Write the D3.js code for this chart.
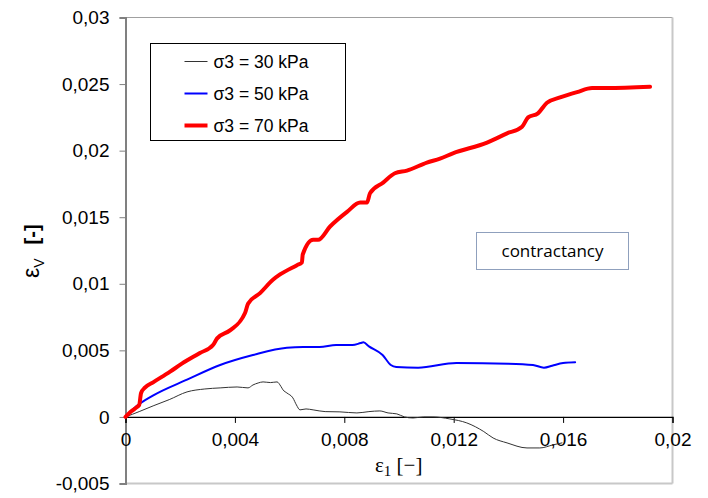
<!DOCTYPE html>
<html>
<head>
<meta charset="utf-8">
<script src="https://cdn.jsdelivr.net/npm/d3@7"></script>
<style>
  html, body { margin: 0; padding: 0; background: #fff; }
  svg { display: block; }
</style>
</head>
<body>
<svg id="chart" width="708" height="498"></svg>
<script>
// Axial strain ε1 vs. volumetric strain εV for three confining pressures
const seriesNames = ["σ3 = 30 kPa", "σ3 = 50 kPa", "σ3 = 70 kPa"];
const seriesColors = ["#333333", "#0000ff", "#ff0000"];
const seriesWidths = [1, 2, 4];

const s30 = [
  [0, 0], [0.0005, 0.0004], [0.00101, 0.00083], [0.0016, 0.0013], [0.00225, 0.00188],
  [0.0029, 0.0021], [0.00346, 0.00218], [0.00408, 0.00225], [0.00448, 0.00218],
  [0.00466, 0.0024], [0.00485, 0.00255], [0.00503, 0.00263], [0.0053, 0.00258],
  [0.00554, 0.00263], [0.00568, 0.0023], [0.00576, 0.00203], [0.0059, 0.0018],
  [0.00612, 0.00143], [0.00625, 0.0009], [0.00638, 0.00053], [0.0066, 0.0006],
  [0.00686, 0.00053], [0.0073, 0.0004], [0.00784, 0.00038], [0.00846, 0.0003],
  [0.0089, 0.0004], [0.0093, 0.00045], [0.0096, 0.0003], [0.00992, 0.00023],
  [0.0102, 0.0], [0.01051, -0.00008], [0.0109, 0.0], [0.01124, 0.0],
  [0.01186, -0.00015], [0.01248, -0.00045], [0.0131, -0.0011], [0.01344, -0.00158],
  [0.01395, -0.00195], [0.01468, -0.00233], [0.01515, -0.00233], [0.01563, -0.0021],
  [0.01596, -0.00195]
];

const s50 = [
  [0, 0], [0.0004, 0.0008], [0.001, 0.0016], [0.00225, 0.0028], [0.00346, 0.0039],
  [0.00466, 0.00465], [0.0059, 0.0052], [0.0065, 0.00525], [0.0071, 0.00525],
  [0.0077, 0.0054], [0.0083, 0.0054], [0.0086, 0.00555], [0.0087, 0.0056],
  [0.0089, 0.0053], [0.0094, 0.00465], [0.0097, 0.0039], [0.0099, 0.00375],
  [0.0107, 0.0037], [0.0121, 0.00405], [0.014, 0.004], [0.0149, 0.0039],
  [0.0153, 0.0037], [0.0156, 0.00385], [0.016, 0.00405], [0.01644, 0.0041]
];

const s70 = [
  [0, 0], [0.0002, 0.0004], [0.00042, 0.00075], [0.0005, 0.0009], [0.00057, 0.0018],
  [0.00071, 0.0022], [0.00101, 0.0026], [0.00163, 0.0034], [0.00206, 0.004],
  [0.00272, 0.0048], [0.0032, 0.0054], [0.00335, 0.0059], [0.00382, 0.0065],
  [0.00437, 0.0078], [0.00448, 0.0085], [0.00492, 0.0093], [0.00539, 0.0103],
  [0.00565, 0.0107], [0.00627, 0.0114], [0.00645, 0.0116], [0.00648, 0.0122],
  [0.00686, 0.0133], [0.00704, 0.0133], [0.00748, 0.0143], [0.0081, 0.0154],
  [0.00858, 0.0161], [0.00883, 0.0161], [0.00894, 0.0168], [0.00942, 0.0176],
  [0.00985, 0.0183], [0.01029, 0.0185], [0.01102, 0.0191], [0.0115, 0.0194],
  [0.01197, 0.0198], [0.01322, 0.0206], [0.01395, 0.0213], [0.0145, 0.0218],
  [0.01472, 0.0225], [0.01508, 0.0228], [0.01541, 0.0236], [0.01589, 0.024],
  [0.01651, 0.0244], [0.01706, 0.0247], [0.01761, 0.0247], [0.01918, 0.0248]
];

const xTicks = [0, 0.004, 0.008, 0.012, 0.016, 0.02];
const yTicks = [-0.005, 0, 0.005, 0.01, 0.015, 0.02, 0.025, 0.03];
const annotationText = "contractancy";

// decimal comma, plain hyphen for negatives
const fmt = v => (v === 0 ? "0" : String(+v.toFixed(3)).replace(".", ","));

const svg = d3.select("#chart");
const plot = { left: 125.5, right: 672.5, top: 17.5, bottom: 483.5 };

const x = d3.scaleLinear().domain([0, 0.02]).range([plot.left, plot.right]);
const y = d3.scaleLinear().domain([-0.005, 0.03]).range([plot.bottom, plot.top]);

// plot frame: light right/bottom edges, grey top edge
svg.append("line").attr("x1", plot.left).attr("x2", plot.right)
  .attr("y1", plot.top).attr("y2", plot.top).attr("stroke", "#a0a0a0");
svg.append("line").attr("x1", plot.right).attr("x2", plot.right)
  .attr("y1", plot.top).attr("y2", plot.bottom).attr("stroke", "#c8c8c8").attr("stroke-width", 2);
svg.append("line").attr("x1", plot.left).attr("x2", plot.right)
  .attr("y1", plot.bottom).attr("y2", plot.bottom).attr("stroke", "#c8c8c8").attr("stroke-width", 2);

// y axis on the left edge
const yAxis = svg.append("g").attr("transform", `translate(${plot.left},0)`)
  .call(d3.axisLeft(y).tickValues(yTicks).tickSize(6).tickPadding(10).tickFormat(fmt));
yAxis.select(".domain").attr("stroke", "#808080").attr("stroke-width", 2);
yAxis.selectAll(".tick line").attr("stroke", "#808080");
yAxis.selectAll("text").attr("font-family", "Liberation Sans, Arial, sans-serif")
  .attr("font-size", 19).attr("fill", "#000");

// x axis along ε_V = 0
const xAxis = svg.append("g").attr("transform", `translate(0,${y(0)})`)
  .call(d3.axisBottom(x).tickValues(xTicks).tickSize(6).tickPadding(10).tickFormat(fmt));
xAxis.select(".domain").attr("stroke", "#000").attr("stroke-width", 1.2);
xAxis.selectAll(".tick line").attr("stroke", "#000");
xAxis.selectAll("text").attr("font-family", "Liberation Sans, Arial, sans-serif")
  .attr("font-size", 19).attr("fill", "#000");

// data curves
const line = d3.line().x(d => x(d[0])).y(d => y(d[1])).curve(d3.curveMonotoneX);
[s30, s50, s70].forEach((s, i) => {
  svg.append("path").datum(s)
    .attr("d", line)
    .attr("fill", "none")
    .attr("stroke", seriesColors[i])
    .attr("stroke-width", seriesWidths[i])
    .attr("stroke-linejoin", "round")
    .attr("stroke-linecap", "round");
});

// axis titles
const xTitle = svg.append("text").attr("x", 375).attr("y", 472)
  .attr("font-family", "Liberation Serif, Times New Roman, serif").attr("font-size", 21).attr("fill", "#000");
xTitle.append("tspan").text("ε");
xTitle.append("tspan").attr("font-size", 15).attr("dy", 4).text("1");
xTitle.append("tspan").attr("dy", -4).text(" [−]");

const yTitle = svg.append("text")
  .attr("transform", "translate(39,278) rotate(-90)")
  .attr("font-family", "Liberation Sans, Arial, sans-serif").attr("font-size", 23).attr("fill", "#000");
yTitle.append("tspan").text("ε");
yTitle.append("tspan").attr("font-size", 14).attr("dy", 5).text("V");
yTitle.append("tspan").attr("dy", -5).attr("dx", 14).attr("font-weight", "bold").attr("font-size", 20).text("[-]");

// legend
const legend = svg.append("g").attr("transform", "translate(150.5,43.5)");
legend.append("rect").attr("width", 195).attr("height", 97)
  .attr("fill", "#fff").attr("stroke", "#000").attr("stroke-width", 1);
seriesNames.forEach((name, i) => {
  const ly = 18 + i * 32;
  legend.append("line").attr("x1", 34).attr("x2", 57).attr("y1", ly).attr("y2", ly)
    .attr("stroke", seriesColors[i]).attr("stroke-width", seriesWidths[i]);
  legend.append("text").attr("x", 63).attr("y", ly + 6)
    .attr("font-family", "Liberation Sans, Arial, sans-serif").attr("font-size", 17.5)
    .attr("fill", "#000").text(name);
});

// annotation box
const note = svg.append("g").attr("transform", "translate(476.5,232.5)");
note.append("rect").attr("width", 152).attr("height", 37)
  .attr("fill", "#fff").attr("stroke", "#8fa0bd").attr("stroke-width", 1);
note.append("text").attr("x", 76).attr("y", 24).attr("text-anchor", "middle")
  .attr("font-family", "Open Sans, Lato, sans-serif").attr("font-size", 17)
  .attr("fill", "#000").text(annotationText);
</script>
</body>
</html>
